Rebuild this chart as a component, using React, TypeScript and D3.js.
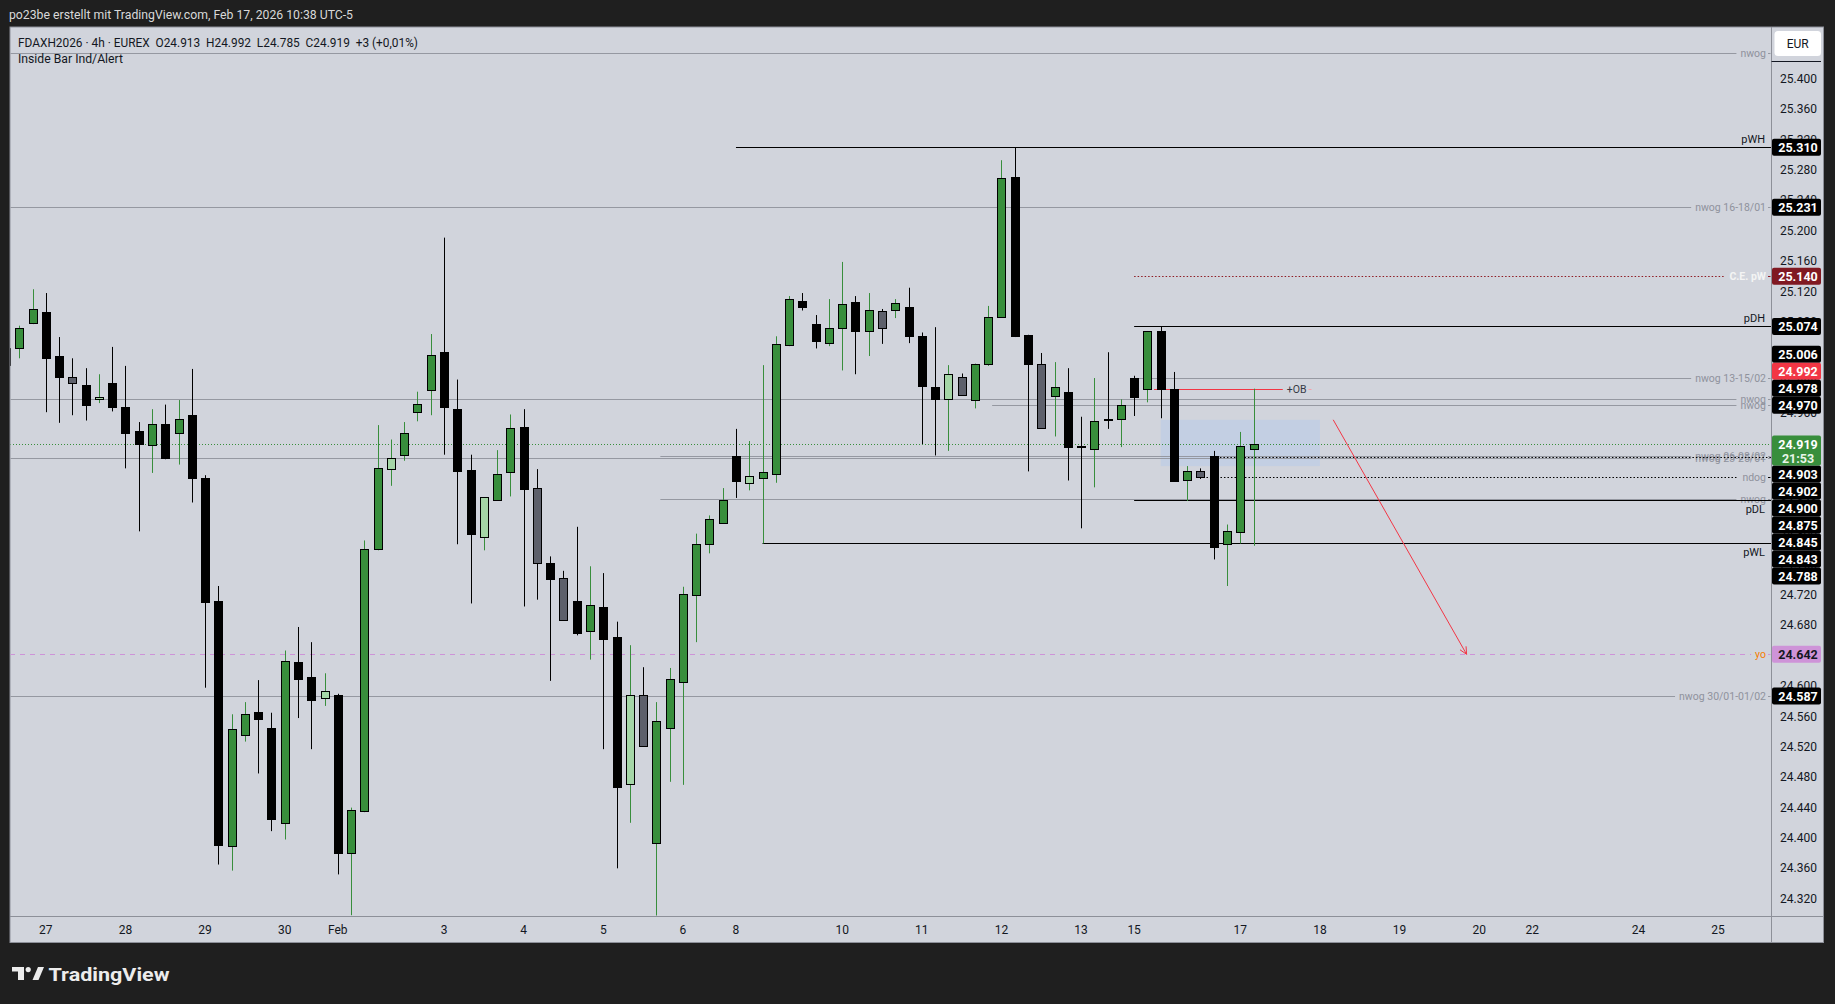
import React from "react";
import * as d3 from "d3";

// ---------- DATA ----------
const firstBar = -1;
const opens = [25.045,25.045,25.078,25.093,25.035,25.007,24.997,24.978,25.000,24.968,24.936,24.918,24.945,24.933,24.957,24.874,24.712,24.389,24.536,24.566,24.545,24.420,24.632,24.612,24.585,24.588,24.380,24.435,24.781,24.886,24.904,24.961,24.990,25.040,24.965,24.885,24.797,24.845,24.882,24.941,24.861,24.762,24.742,24.712,24.673,24.704,24.665,24.471,24.588,24.394,24.545,24.606,24.720,24.787,24.815,24.903,24.868,24.874,24.880,25.050,25.108,25.077,25.052,25.072,25.106,25.068,25.094,25.095,25.100,25.061,24.994,24.978,25.007,24.977,25.024,25.087,25.271,25.063,25.024,24.982,24.987,24.916,24.912,24.952,24.952,25.006,24.992,25.068,24.992,24.872,24.884,24.903,24.787,24.803,24.913];
const highs = [25.050,25.075,25.123,25.118,25.060,25.032,25.019,25.011,25.047,25.022,24.948,24.965,24.971,24.977,25.018,24.878,24.732,24.563,24.579,24.608,24.565,24.647,24.678,24.658,24.617,24.590,24.440,24.792,24.944,24.925,24.948,24.988,25.064,25.191,25.004,24.905,24.849,24.911,24.958,24.965,24.886,24.771,24.752,24.810,24.758,24.749,24.685,24.654,24.625,24.579,24.624,24.731,24.801,24.825,24.861,24.939,24.923,25.023,25.061,25.114,25.118,25.089,25.110,25.159,25.114,25.118,25.097,25.110,25.125,25.066,25.073,25.023,25.012,25.025,25.101,25.293,25.310,25.063,25.039,25.027,25.019,24.955,25.006,25.040,24.978,25.009,25.068,25.074,25.014,24.890,24.887,24.910,24.813,24.935,24.992];
const lows = [25.020,25.032,25.077,24.961,24.947,24.957,24.950,24.973,24.962,24.887,24.804,24.881,24.899,24.892,24.842,24.598,24.365,24.357,24.527,24.485,24.409,24.398,24.558,24.517,24.574,24.352,24.298,24.434,24.779,24.864,24.897,24.949,24.957,24.905,24.787,24.709,24.779,24.845,24.850,24.705,24.714,24.607,24.686,24.667,24.635,24.517,24.360,24.420,24.520,24.297,24.474,24.470,24.658,24.775,24.815,24.848,24.858,24.788,24.868,25.048,25.095,25.045,25.048,25.016,25.011,25.035,25.051,25.085,25.052,24.919,24.904,24.910,24.984,24.966,25.022,25.086,25.060,24.883,24.940,24.929,24.871,24.808,24.862,24.939,24.915,24.956,24.974,24.953,24.870,24.844,24.873,24.767,24.732,24.788,24.785];
const closes = [25.023,25.072,25.097,25.033,25.007,24.999,24.970,24.981,24.968,24.934,24.919,24.945,24.900,24.952,24.874,24.711,24.391,24.544,24.563,24.557,24.425,24.633,24.610,24.582,24.594,24.380,24.437,24.781,24.887,24.901,24.933,24.972,25.037,24.968,24.883,24.801,24.849,24.880,24.940,24.860,24.762,24.741,24.687,24.670,24.707,24.662,24.467,24.588,24.521,24.554,24.610,24.721,24.787,24.820,24.845,24.871,24.877,24.882,25.051,25.110,25.100,25.055,25.072,25.104,25.068,25.095,25.072,25.105,25.062,24.996,24.979,25.011,24.984,25.025,25.087,25.269,25.061,25.025,24.940,24.994,24.915,24.915,24.949,24.951,24.970,24.981,25.068,24.992,24.870,24.884,24.876,24.783,24.805,24.916,24.919];

const dayLabels = ["27","28","29","30","Feb","3","4","5","6","8","10","11","12","13","15","17","18","19","20","22","24","25"];
const dayLabelBars = [2,8,14,20,24,32,38,44,50,54,62,68,74,80,84,92,98,104,110,114,122,128];

const priceTicks = [25.40,25.36,25.32,25.28,25.24,25.20,25.16,25.12,25.08,25.04,25.00,24.96,24.92,24.88,24.84,24.80,24.76,24.72,24.68,24.64,24.60,24.56,24.52,24.48,24.44,24.40,24.36,24.32];

const levelNames = ["nwog","pWH","nwog 16-18/01","C.E. pW","pDH","nwog 13-15/02","nwog","nwog","nwog 06-08/02","nwog 23-25/01","ndog","","nwog","pDL","pWL","yo","nwog 30/01-01/02","+OB"];
const levelPrices = [25.434,25.310,25.231,25.140,25.074,25.006,24.978,24.970,24.903,24.900,24.875,24.902,24.846,24.845,24.788,24.642,24.587,24.992];
const levelStartBars = [-3,54,-3,84,84,84,-3,73.3,48.3,-3,89.45,90.2,48.3,84,56,-3,-3,85.5];
const levelKinds = ["gap","above","gap","ce","above","gap","gap","gap","gap","gap","ndog","dotted","gap","below","below","yo","gap","ob"];
const obEndBar = 95.2;

const currentPrice = 24.919;
const countdown = "21:53";
const axisLabelPrices = [25.310,25.231,25.140,25.074,25.006,24.992,24.978,24.970,24.903,24.902,24.900,24.875,24.845,24.843,24.788,24.642,24.587];
const axisLabelKinds = ["black","black","darkred","black","black","red","black","black","black","black","black","black","black","black","black","pink","black"];

const zoneBars = [86, 98];
const zonePrices = [24.951, 24.890];
const arrowBars = [99.0, 109.05];
const arrowPrices = [24.951, 24.642];

const headerText = "po23be erstellt mit TradingView.com, Feb 17, 2026 10:38 UTC-5";
const legendText = "FDAXH2026 · 4h · EUREX  O24.913  H24.992  L24.785  C24.919  +3 (+0,01%)";
const indicatorText = "Inside Bar Ind/Alert";
const currencyText = "EUR";

// ---------- LAYOUT ----------
const W = 1835, H = 1004;
const plotL = 10, plotR = 1771.5, plotT = 27, plotB = 916, axisR = 1823.5, axisB = 942.5;
const FONT = "Roboto, 'Noto Sans', sans-serif";

const GREEN = "#388e3c", LIGHTGREEN = "#a5d6a7", GRAY = "#5d606b";
const boxFill: Record<string, string> = { black: "#000000", red: "#f23645", darkred: "#801922", pink: "#ce93d8", green: GREEN };

let measureCtx: CanvasRenderingContext2D | null = null;
function textW(t: string, font: string) {
  if (!measureCtx && typeof document !== "undefined") measureCtx = document.createElement("canvas").getContext("2d");
  if (!measureCtx) return t.length * 5.3;
  measureCtx.font = font;
  return measureCtx.measureText(t).width;
}

export default function App() {
  const xs = d3.scaleLinear().domain([0, 128]).range([19.3, 1718.1]);
  const ys = d3.scaleLinear().domain([24.32, 25.4]).range([898.7, 79]);

  const bars = opens.map((o, k) => {
    const h = highs[k], l = lows[k], c = closes[k];
    const inside = k > 0 && h < highs[k - 1] && l > lows[k - 1];
    const up = c >= o;
    const fill = inside ? (up ? LIGHTGREEN : GRAY) : (up ? GREEN : "#000");
    const wick = up ? GREEN : "#000";
    return { i: firstBar + k, o, h, l, c, fill, wick };
  });

  // right axis label stacking
  const BOX_H = 17;
  const curCenter = ys(currentPrice);
  const curTop = curCenter - BOX_H / 2;
  const curBottom = curTop + 30;
  const labels = axisLabelPrices.map((p, k) => ({ p, kind: axisLabelKinds[k], cy: ys(p) }));
  const above = labels.filter((d) => d.p > currentPrice).sort((a, b) => b.cy - a.cy);
  let limit = curTop;
  above.forEach((d) => { d.cy = Math.min(d.cy, limit - BOX_H / 2); limit = d.cy - BOX_H / 2; });
  const below = labels.filter((d) => d.p < currentPrice).sort((a, b) => a.cy - b.cy);
  limit = curBottom;
  below.forEach((d) => { d.cy = Math.max(d.cy, limit + BOX_H / 2); limit = d.cy + BOX_H / 2; });

  const LFS = 10.5;
  const labelFont = `${LFS}px ${FONT}`;
  const textEnd = 1766;

  const levelEls = levelPrices.map((p, k) => {
    const y = Math.round(ys(p)) + 0.5;
    const x0 = Math.max(plotL, xs(levelStartBars[k]));
    const kind = levelKinds[k];
    const name = levelNames[k];
    let stroke = "#9598a1", dash: string | undefined = undefined, tcolor = "#8f929c", weight = 400;
    if (kind === "above" || kind === "below") { stroke = "#000"; tcolor = "#131722"; }
    if (kind === "ce") { stroke = "#8e1b23"; dash = "1.5 2"; tcolor = "#f4f4f4"; weight = 700; }
    if (kind === "yo") { stroke = "#ce93d8"; dash = "5 5"; tcolor = "#f57c00"; }
    if (kind === "ndog" || kind === "dotted") { stroke = "#000"; dash = "1.5 2"; }
    if (kind === "ob") {
      const x1 = xs(obEndBar);
      const tw = textW(name, labelFont);
      return (
        <g key={k}>
          <line x1={x0} x2={x1} y1={y} y2={y} stroke="#f23645" strokeWidth={1} />
          <text x={x1 + 4} y={y} dominantBaseline="central" fontSize={LFS} fontFamily={FONT} fill="#363a45">{name}</text>
          <line x1={x1 + 6 + tw} x2={x1 + 9 + tw} y1={y} y2={y} stroke="#f7a0aa" strokeWidth={1} />
        </g>
      );
    }
    if (kind === "above" || kind === "below") {
      return (
        <g key={k}>
          <line x1={x0} x2={plotR} y1={y} y2={y} stroke={stroke} strokeWidth={1} />
          <text x={textEnd - 1} y={kind === "above" ? y - 8 : y + 9} textAnchor="end" dominantBaseline="central" fontSize={11} fontFamily={FONT} fill={tcolor}>{name}</text>
        </g>
      );
    }
    if (kind === "dotted") {
      return <line key={k} x1={x0} x2={plotR} y1={y} y2={y} stroke={stroke} strokeDasharray={dash} strokeWidth={1} />;
    }
    const tw = textW(name, `${weight === 700 ? "bold " : ""}${labelFont}`);
    return (
      <g key={k}>
        <line x1={x0} x2={textEnd - tw - 4} y1={y} y2={y} stroke={stroke} strokeDasharray={dash} strokeWidth={1} />
        <text x={textEnd} y={y} textAnchor="end" dominantBaseline="central" fontSize={LFS} fontWeight={weight} fontFamily={FONT} fill={tcolor}>{name}</text>
        <line x1={textEnd + 2} x2={plotR - 1} y1={y} y2={y} stroke={stroke} strokeWidth={1} />
      </g>
    );
  });

  const ax0 = xs(arrowBars[0]), ay0 = ys(arrowPrices[0]);
  const ax1 = xs(arrowBars[1]), ay1 = ys(arrowPrices[1]);
  const ang = Math.atan2(ay1 - ay0, ax1 - ax0);
  const headLen = 8;
  const hA = [ax1 - headLen * Math.cos(ang - 0.45), ay1 - headLen * Math.sin(ang - 0.45)];
  const hB = [ax1 - headLen * Math.cos(ang + 0.45), ay1 - headLen * Math.sin(ang + 0.45)];

  return (
    <svg width={W} height={H} viewBox={`0 0 ${W} ${H}`} style={{ position: "absolute", left: 0, top: 0, display: "block" }} fontFamily={FONT}>
      <defs>
        <clipPath id="plotClip">
          <rect x={plotL + 0.5} y={plotT + 0.5} width={plotR - plotL - 1} height={plotB - plotT - 1} />
        </clipPath>
      </defs>
      <rect x={0} y={0} width={W} height={H} fill="#1f1f1f" />
      <text x={9} y={14.5} dominantBaseline="central" fontSize={12.5} fill="#d9d9d9" textLength={344} lengthAdjust="spacingAndGlyphs">{headerText}</text>

      {/* panel */}
      <rect x={plotL} y={plotT} width={axisR - plotL} height={axisB - plotT} fill="#d1d4dc" stroke="#8d9099" strokeWidth={1} />

      <g clipPath="url(#plotClip)">
        <rect x={xs(zoneBars[0])} y={ys(zonePrices[0])} width={xs(zoneBars[1]) - xs(zoneBars[0])} height={ys(zonePrices[1]) - ys(zonePrices[0])} fill="#c3cfe3" />
        {levelEls}
        <line x1={plotL} x2={plotR} y1={Math.round(ys(currentPrice)) + 0.5} y2={Math.round(ys(currentPrice)) + 0.5} stroke={GREEN} strokeDasharray="1 2" strokeWidth={1} />
        {bars.map((b) => {
          const cx = Math.round(xs(b.i));
          const top = Math.round(ys(Math.max(b.o, b.c)));
          const bot = Math.max(top + 1, Math.round(ys(Math.min(b.o, b.c))));
          return (
            <g key={b.i}>
              <line x1={cx + 0.5} x2={cx + 0.5} y1={ys(b.h)} y2={ys(b.l)} stroke={b.wick} strokeWidth={1} />
              <rect x={cx - 3.5} y={top + 0.5} width={8} height={bot - top} fill={b.fill} stroke="#000" strokeWidth={1} />
            </g>
          );
        })}
        <line x1={ax0} y1={ay0} x2={ax1} y2={ay1} stroke="#f23645" strokeWidth={1} />
        <polyline points={`${hA[0]},${hA[1]} ${ax1},${ay1} ${hB[0]},${hB[1]}`} fill="none" stroke="#f23645" strokeWidth={1} />
      </g>

      {/* legend */}
      <text x={18} y={42} dominantBaseline="central" fontSize={12.5} fill="#131722" style={{ whiteSpace: "pre" }} textLength={400} lengthAdjust="spacingAndGlyphs">{legendText}</text>
      <text x={18} y={58.5} dominantBaseline="central" fontSize={12.5} fill="#131722" textLength={105} lengthAdjust="spacingAndGlyphs">{indicatorText}</text>

      {/* separators */}
      <line x1={plotR} x2={plotR} y1={plotT} y2={axisB} stroke="#8d9099" strokeWidth={1} />
      <line x1={plotL} x2={axisR} y1={plotB + 0.5} y2={plotB + 0.5} stroke="#8d9099" strokeWidth={1} />

      {dayLabels.map((t, k) => (
        <text key={t + k} x={xs(dayLabelBars[k])} y={930} textAnchor="middle" dominantBaseline="central" fontSize={12} fill="#131722">{t}</text>
      ))}

      {priceTicks.map((p) => (
        <text key={p} x={1780} y={ys(p)} dominantBaseline="central" fontSize={12} fill="#131722">{d3.format(".3f")(p)}</text>
      ))}

      <rect x={1774.5} y={31} width={46.5} height={25} rx={3.5} fill="#ffffff" />
      <text x={1797.7} y={43.5} textAnchor="middle" dominantBaseline="central" fontSize={12} fill="#131722">{currencyText}</text>
      <line x1={plotR} x2={1821} y1={61.5} y2={61.5} stroke="#131722" strokeWidth={1} />

      {labels.map((d) => (
        <g key={d.p}>
          <rect x={1772} y={d.cy - BOX_H / 2} width={49} height={BOX_H} rx={2} fill={boxFill[d.kind]} />
          <text x={1798} y={d.cy + 0.5} textAnchor="middle" dominantBaseline="central" fontSize={12.5} fontWeight={700} fill={d.kind === "pink" ? "#131722" : "#ffffff"}>{d3.format(".3f")(d.p)}</text>
        </g>
      ))}
      <rect x={1772} y={curTop} width={49} height={30} rx={2} fill={GREEN} />
      <text x={1798} y={curTop + 8.5} textAnchor="middle" dominantBaseline="central" fontSize={12.5} fontWeight={700} fill="#ffffff">{d3.format(".3f")(currentPrice)}</text>
      <text x={1798} y={curTop + 22.5} textAnchor="middle" dominantBaseline="central" fontSize={12.5} fontWeight={700} fill="#e8f5e9">{countdown}</text>

      <path d="M12,967 H24 V980 H18 V971.5 H12 Z" fill="#ececec" />
      <circle cx={28.2} cy={969.6} r={2.6} fill="#ececec" />
      <path d="M32.5,980 L38,967 H44 L38.5,980 Z" fill="#ececec" />
      <text x={48.5} y={974} dominantBaseline="central" fontSize={19} fontWeight={700} fill="#ececec" textLength={121} lengthAdjust="spacingAndGlyphs">TradingView</text>
    </svg>
  );
}
